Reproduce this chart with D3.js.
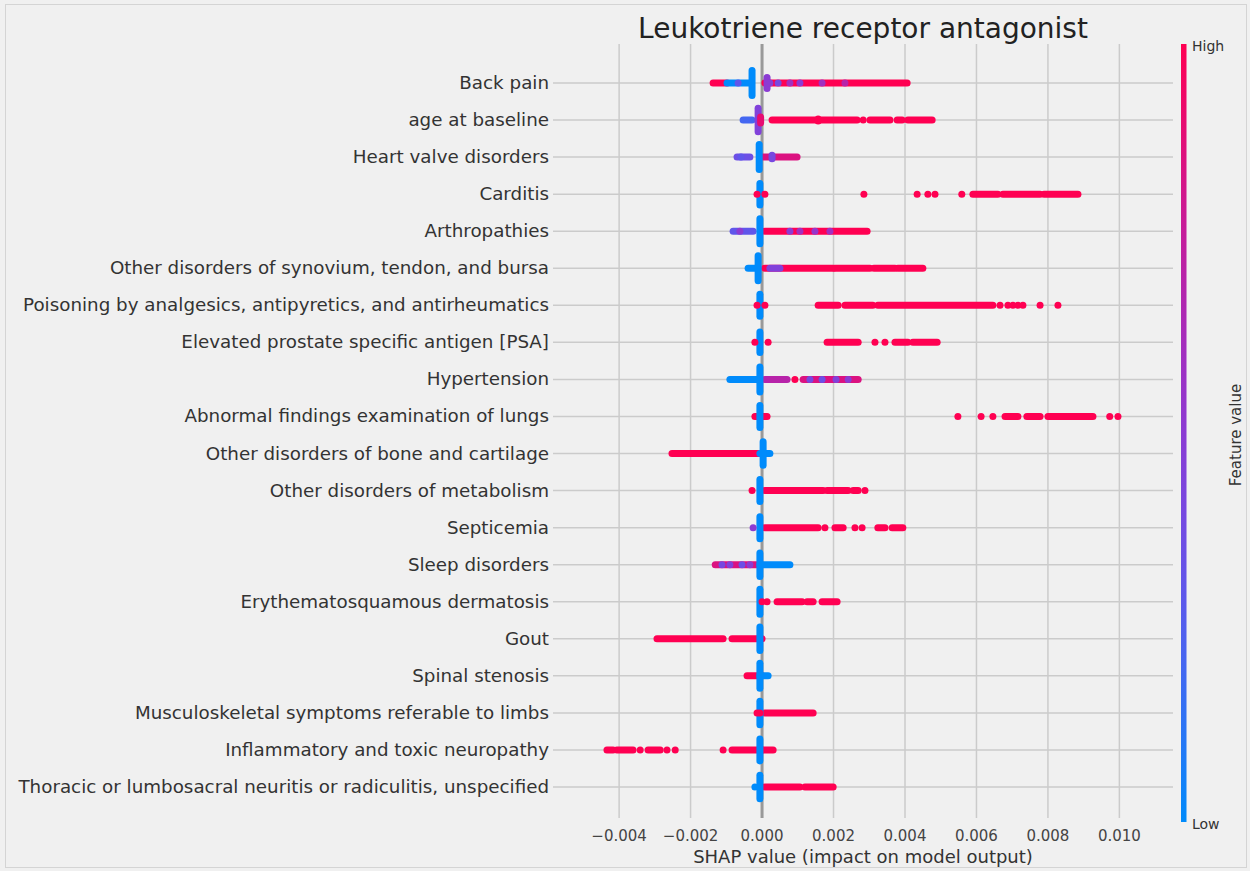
<!DOCTYPE html>
<html>
<head>
<meta charset="utf-8">
<script src="https://d3js.org/d3.v7.min.js"></script>
<style>
  body { margin: 0; background: #f0f0f0; }
  text { font-family: "DejaVu Sans", sans-serif; }
</style>
</head>
<body>
<div id="chart"></div>
<script>
  // feature names, top to bottom
  var features = [
    "Back pain",
    "age at baseline",
    "Heart valve disorders",
    "Carditis",
    "Arthropathies",
    "Other disorders of synovium, tendon, and bursa",
    "Poisoning by analgesics, antipyretics, and antirheumatics",
    "Elevated prostate specific antigen [PSA]",
    "Hypertension",
    "Abnormal findings examination of lungs",
    "Other disorders of bone and cartilage",
    "Other disorders of metabolism",
    "Septicemia",
    "Sleep disorders",
    "Erythematosquamous dermatosis",
    "Gout",
    "Spinal stenosis",
    "Musculoskeletal symptoms referable to limbs",
    "Inflammatory and toxic neuropathy",
    "Thoracic or lumbosacral neuritis or radiculitis, unspecified"
  ];

  var xTicks = [-0.004, -0.002, 0, 0.002, 0.004, 0.006, 0.008, 0.010];

  // runs of overlapping points: [feature, shapFrom, shapTo, featureValue]
  var runs = [
    [0, -0.00137, -0.00098, 1], [0, -0.00098, -0.00034, 0], [0, 0.00008, 0.00406, 1],
    [1, -0.00053, -0.00028, 0.2], [1, 0.00028, 0.00266, 1], [1, 0.00302, 0.00358, 1], [1, 0.00378, 0.00392, 1], [1, 0.00408, 0.00476, 1],
    [2, -0.00070, -0.00034, 0.35], [2, 0.00003, 0.00098, 0.85],
    [3, 0.00590, 0.00660, 1], [3, 0.00674, 0.00778, 1], [3, 0.00789, 0.00884, 1],
    [4, -0.00081, -0.00025, 0.3], [4, 0.00008, 0.00294, 1],
    [5, -0.00039, -0.00011, 0], [5, 0.00008, 0.00199, 1], [5, 0.00204, 0.00302, 1], [5, 0.00313, 0.00372, 1], [5, 0.00380, 0.00450, 1], [5, 0.00022, 0.00050, 0.45],
    [6, 0.00157, 0.00213, 1], [6, 0.00232, 0.00310, 1], [6, 0.00324, 0.00646, 1],
    [7, 0.00182, 0.00269, 1], [7, 0.00372, 0.00408, 1], [7, 0.00422, 0.00490, 1],
    [8, -0.00090, -0.00006, 0], [8, 0.00008, 0.00070, 0.7], [8, 0.00115, 0.00269, 0.85],
    [9, -0.00020, 0.00014, 1], [9, 0.00680, 0.00716, 1], [9, 0.00741, 0.00778, 1], [9, 0.00800, 0.00926, 1],
    [10, -0.00252, 0, 1], [10, -0.00006, 0.00022, 0],
    [11, 0.00008, 0.00171, 1], [11, 0.00182, 0.00241, 1], [11, 0.00255, 0.00269, 1],
    [12, 0.00008, 0.00157, 1], [12, 0.00204, 0.00227, 1], [12, 0.00324, 0.00344, 1], [12, 0.00364, 0.00394, 1],
    [13, -0.00131, -0.00006, 0.85], [13, -0.00006, 0.00078, 0],
    [14, 0.00042, 0.00112, 1], [14, 0.00126, 0.00143, 1], [14, 0.00168, 0.00210, 1],
    [15, -0.00294, -0.00109, 1], [15, -0.00084, 0, 1],
    [16, -0.00042, 0, 1], [16, -0.00006, 0.00017, 0],
    [17, 0.00008, 0.00143, 1],
    [18, -0.00434, -0.00417, 1], [18, -0.00406, -0.00361, 1], [18, -0.00319, -0.00285, 1], [18, -0.00084, 0, 1], [18, 0, 0.00031, 1],
    [19, 0.00008, 0.00106, 1], [19, 0.00120, 0.00199, 1]
  ];

  // piles of points stacked around one value: [feature, shap, count, featureValue]
  var piles = [
    [0, -0.00028, 500, 0], [0, 0.00014, 220, 0.5],
    [1, -0.00011, 470, 0.45], [1, -0.00004, 120, 0.9], [1, 0.00157, 40, 1],
    [2, -0.00008, 500, 0], [2, 0.00028, 70, 0.4],
    [3, -0.00006, 430, 0],
    [4, -0.00006, 500, 0],
    [5, -0.00011, 500, 0],
    [6, -0.00006, 440, 0],
    [7, -0.00006, 410, 0],
    [8, -0.00006, 500, 0],
    [9, -0.00006, 440, 0],
    [10, 0.00003, 470, 0],
    [11, -0.00006, 440, 0],
    [12, -0.00006, 440, 0],
    [13, -0.00006, 470, 0],
    [14, -0.00006, 500, 0],
    [15, -0.00006, 470, 0],
    [16, -0.00006, 500, 0],
    [17, -0.00006, 470, 0],
    [18, -0.00006, 440, 0],
    [19, -0.00006, 470, 0]
  ];

  // single points: [feature, shap, featureValue]
  var dots = [
    [0, -0.00067, 0.3], [0, 0.00022, 0.5], [0, 0.00045, 0.4], [0, 0.00078, 0.6], [0, 0.00106, 0.5], [0, 0.00168, 0.6], [0, 0.00232, 0.7],
    [1, 0.00283, 1],
    [2, -0.00059, 0.3],
    [3, -0.00014, 1], [3, 0.00008, 1], [3, 0.00285, 1], [3, 0.00434, 1], [3, 0.00464, 1], [3, 0.00484, 1], [3, 0.00559, 1],
    [4, -0.00062, 0.5], [4, 0.00078, 0.5], [4, 0.00106, 0.6], [4, 0.00148, 0.55], [4, 0.00190, 0.6],
    [6, -0.00014, 1], [6, 0.00008, 1], [6, 0.00666, 1], [6, 0.00688, 1], [6, 0.00702, 1], [6, 0.00716, 1], [6, 0.00730, 1], [6, 0.00778, 1], [6, 0.00828, 1],
    [7, -0.00020, 1], [7, 0.00017, 1], [7, 0.00316, 1], [7, 0.00344, 1],
    [8, 0.00092, 1], [8, 0.00134, 0.4], [8, 0.00168, 0.35], [8, 0.00207, 0.45], [8, 0.00241, 0.5],
    [9, 0.00548, 1], [9, 0.00613, 1], [9, 0.00646, 1], [9, 0.00973, 1], [9, 0.00996, 1],
    [11, -0.00028, 1], [11, 0.00288, 1],
    [12, -0.00025, 0.5], [12, 0.00176, 1], [12, 0.00260, 1], [12, 0.00280, 1],
    [13, -0.00112, 0.4], [13, -0.00090, 0.45], [13, -0.00056, 0.35], [13, -0.00034, 0.5],
    [14, 0, 1], [14, 0.00014, 1],
    [17, -0.00014, 1], [17, -0.00006, 1],
    [18, -0.00341, 1], [18, -0.00266, 1], [18, -0.00243, 1], [18, -0.00109, 1],
    [19, -0.00020, 0]
  ];

  var W = 1250, H = 871,
    plotLeft = 553, plotRight = 1173, plotTop = 44, plotBottom = 818,
    dotR = 3.5;

  var svg = d3.select("#chart").append("svg")
    .attr("width", W).attr("height", H);

  svg.append("rect").attr("x", 5.5).attr("y", 4.5).attr("width", W - 9).attr("height", H - 8)
    .attr("fill", "#f0f0f0").attr("stroke", "#d4d4d4");

  var x = d3.scaleLinear().domain([-0.00585, 0.0115]).range([plotLeft, plotRight]);
  var y = d3.scalePoint().domain(d3.range(features.length)).range([83, 787]);
  var pileH = d3.scaleLinear().domain([0, 500]).range([0, 12.5]);
  // blue (low) -> purple -> red (high)
  var colorInterp = d3.interpolateRgbBasis(["#008bfb", "#5a5cf0", "#8a3ad8", "#c21ea0", "#ff0052"]);
  var color = function (v) { return colorInterp(v); };

  // grid
  svg.append("g").selectAll("line").data(xTicks).enter().append("line")
    .attr("x1", function (d) { return x(d); }).attr("x2", function (d) { return x(d); })
    .attr("y1", plotTop).attr("y2", plotBottom)
    .attr("stroke", "#cbcbcb").attr("stroke-width", 1.5);
  svg.append("g").selectAll("line").data(features).enter().append("line")
    .attr("x1", plotLeft).attr("x2", plotRight)
    .attr("y1", function (d, i) { return y(i); }).attr("y2", function (d, i) { return y(i); })
    .attr("stroke", "#cbcbcb").attr("stroke-width", 1.5);

  // zero line
  svg.append("line").attr("x1", x(0)).attr("x2", x(0)).attr("y1", plotTop).attr("y2", plotBottom)
    .attr("stroke", "#999999").attr("stroke-width", 3);

  var marks = svg.append("g");
  marks.selectAll("line.run").data(runs).enter().append("line").attr("class", "run")
    .attr("x1", function (d) { return x(d[1]); }).attr("x2", function (d) { return x(d[2]); })
    .attr("y1", function (d) { return y(d[0]); }).attr("y2", function (d) { return y(d[0]); })
    .attr("stroke", function (d) { return color(d[3]); })
    .attr("stroke-width", dotR * 2).attr("stroke-linecap", "round");

  marks.selectAll("line.pile").data(piles).enter().append("line").attr("class", "pile")
    .attr("x1", function (d) { return x(d[1]); }).attr("x2", function (d) { return x(d[1]); })
    .attr("y1", function (d) { return y(d[0]) - pileH(d[2]); })
    .attr("y2", function (d) { return y(d[0]) + pileH(d[2]); })
    .attr("stroke", function (d) { return color(d[3]); })
    .attr("stroke-width", dotR * 2).attr("stroke-linecap", "round");

  marks.selectAll("circle").data(dots).enter().append("circle")
    .attr("cx", function (d) { return x(d[1]); }).attr("cy", function (d) { return y(d[0]); })
    .attr("r", dotR).attr("fill", function (d) { return color(d[2]); });

  // feature labels
  svg.append("g").selectAll("text").data(features).enter().append("text")
    .attr("x", 549).attr("y", function (d, i) { return y(i) + 6; })
    .attr("text-anchor", "end").attr("font-size", 18.3).attr("fill", "#333333")
    .text(function (d) { return d; });

  // x axis
  var fmt = d3.format(".3f");
  svg.append("g").selectAll("text").data(xTicks).enter().append("text")
    .attr("x", function (d) { return x(d); }).attr("y", 841)
    .attr("text-anchor", "middle").attr("font-size", 15).attr("fill", "#444444")
    .text(function (d) { return fmt(d); });

  svg.append("text").attr("x", 863).attr("y", 863).attr("text-anchor", "middle")
    .attr("font-size", 18).attr("fill", "#333333")
    .text("SHAP value (impact on model output)");

  svg.append("text").attr("x", 863).attr("y", 38).attr("text-anchor", "middle")
    .attr("font-size", 28).attr("fill", "#222222")
    .text("Leukotriene receptor antagonist");

  // colorbar
  var grad = svg.append("defs").append("linearGradient").attr("id", "cbar")
    .attr("x1", 0).attr("y1", 1).attr("x2", 0).attr("y2", 0);
  d3.range(0, 1.0001, 0.1).forEach(function (t) {
    grad.append("stop").attr("offset", t).attr("stop-color", colorInterp(t));
  });
  svg.append("rect").attr("x", 1181).attr("y", 44).attr("width", 5.5).attr("height", 778)
    .attr("fill", "url(#cbar)");
  svg.append("text").attr("x", 1192).attr("y", 51).attr("font-size", 14).attr("fill", "#333333").text("High");
  svg.append("text").attr("x", 1192).attr("y", 829).attr("font-size", 14).attr("fill", "#333333").text("Low");
  svg.append("text").attr("transform", "translate(1241,435) rotate(-90)")
    .attr("text-anchor", "middle").attr("font-size", 15).attr("fill", "#333333")
    .text("Feature value");
</script>
</body>
</html>
